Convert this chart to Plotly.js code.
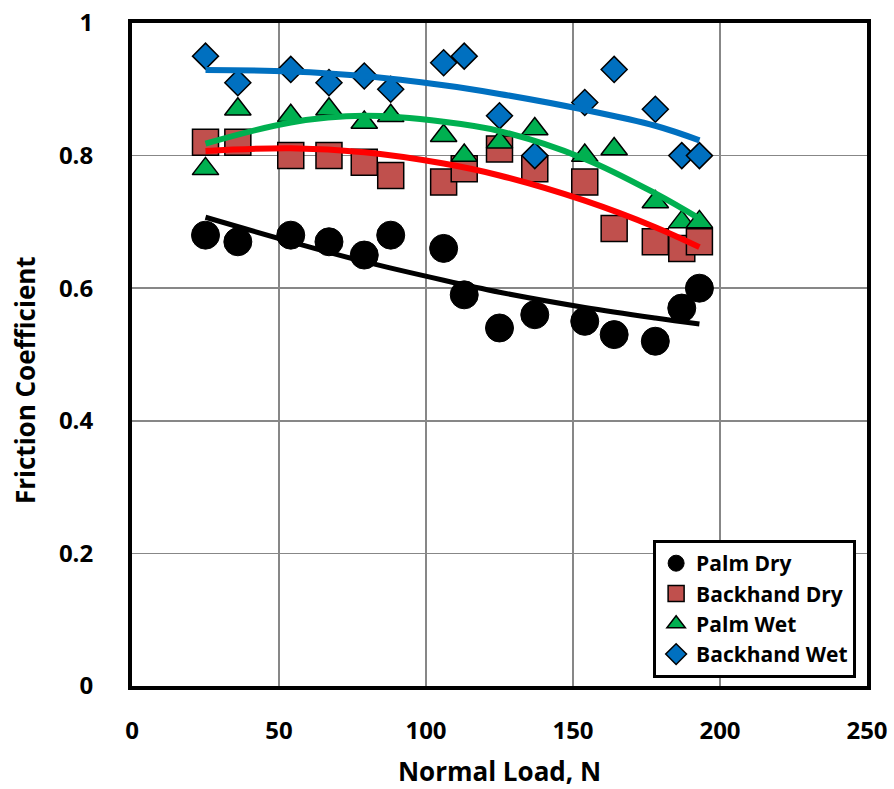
<!DOCTYPE html>
<html>
<head>
<meta charset="utf-8">
<script src="https://cdn.plot.ly/plotly-3.0.1.min.js"></script>
<style>
html,body{margin:0;padding:0;background:#fff;}
#chart{width:894px;height:789px;}
</style>
</head>
<body>
<div id="chart"></div>
<script>
// Measured data
const normalLoad = [25, 36, 54, 67, 79, 88, 106, 113, 125, 137, 154, 164, 178, 187, 193];
const palmDry = [0.68, 0.67, 0.68, 0.67, 0.65, 0.68, 0.66, 0.59, 0.54, 0.56, 0.55, 0.53, 0.52, 0.57, 0.60];
const backhandDry = [0.82, 0.82, 0.80, 0.80, 0.79, 0.77, 0.76, 0.78, 0.81, 0.78, 0.76, 0.69, 0.67, 0.66, 0.67];
const palmWet = [0.78, 0.87, 0.86, 0.87, 0.85, 0.86, 0.83, 0.80, 0.82, 0.84, 0.80, 0.81, 0.73, 0.70, 0.70];
const backhandWet = [0.95, 0.91, 0.93, 0.91, 0.92, 0.90, 0.94, 0.95, 0.86, 0.80, 0.88, 0.93, 0.87, 0.80, 0.80];

// Trend lines
const trendLoad = [25, 54, 79, 106, 125, 154, 178, 193];
const trendPalmDry = [0.707, 0.670, 0.640, 0.612, 0.594, 0.571, 0.555, 0.546];
const trendBackhandDry = [0.807, 0.811, 0.805, 0.788, 0.770, 0.732, 0.692, 0.662];
const trendPalmWet = [0.818, 0.850, 0.860, 0.851, 0.837, 0.795, 0.743, 0.705];
const trendBackhandWet = [0.929, 0.927, 0.920, 0.906, 0.893, 0.869, 0.845, 0.823];

const seriesNames = ['Palm Dry', 'Backhand Dry', 'Palm Wet', 'Backhand Wet'];
const xTicks = [0, 50, 100, 150, 200, 250];
const yTicks = [0, 0.2, 0.4, 0.6, 0.8, 1];
const yTickText = ['0', '0.2', '0.4', '0.6', '0.8', '1'];
const xTitle = 'Normal Load, N';
const yTitle = 'Friction Coefficient';

const FONT = '"Open Sans", Lato, sans-serif';

const traces = [
  {x: normalLoad, y: palmDry, name: seriesNames[0], mode: 'markers', type: 'scatter',
   marker: {symbol: 'circle', size: 28, color: '#000000', line: {color: '#000000', width: 1}}},
  {x: normalLoad, y: backhandDry, name: seriesNames[1], mode: 'markers', type: 'scatter',
   marker: {symbol: 'square', size: 26, color: '#C0504D', line: {color: '#000000', width: 1.5}}},
  {x: normalLoad, y: palmWet, name: seriesNames[2], mode: 'markers', type: 'scatter',
   marker: {symbol: 'triangle-up', size: 23, color: '#00B050', line: {color: '#000000', width: 1.5}}},
  {x: normalLoad, y: backhandWet, name: seriesNames[3], mode: 'markers', type: 'scatter',
   marker: {symbol: 'diamond', size: 20, color: '#0070C0', line: {color: '#000000', width: 1.5}}},
  {x: trendLoad, y: trendPalmDry, mode: 'lines', type: 'scatter', showlegend: false, hoverinfo: 'skip',
   line: {color: '#000000', width: 5, shape: 'spline', smoothing: 1}},
  {x: trendLoad, y: trendBackhandDry, mode: 'lines', type: 'scatter', showlegend: false, hoverinfo: 'skip',
   line: {color: '#FF0000', width: 6, shape: 'spline', smoothing: 1}},
  {x: trendLoad, y: trendPalmWet, mode: 'lines', type: 'scatter', showlegend: false, hoverinfo: 'skip',
   line: {color: '#00B050', width: 6, shape: 'spline', smoothing: 1}},
  {x: trendLoad, y: trendBackhandWet, mode: 'lines', type: 'scatter', showlegend: false, hoverinfo: 'skip',
   line: {color: '#0070C0', width: 6, shape: 'spline', smoothing: 1}}
];

const layout = {
  width: 894, height: 789,
  margin: {l: 132, r: 27, t: 23, b: 103, pad: 0},
  paper_bgcolor: '#ffffff', plot_bgcolor: '#ffffff',
  font: {family: FONT, size: 22, color: '#000000', weight: 700},
  showlegend: true,
  legend: {
    x: 0.709, y: 0.012, xanchor: 'left', yanchor: 'bottom',
    bgcolor: '#ffffff', bordercolor: '#000000', borderwidth: 3,
    font: {family: FONT, size: 21, color: '#000000', weight: 700},
    tracegroupgap: 0, itemwidth: 30
  },
  xaxis: {
    range: [0, 250], tickvals: xTicks, ticktext: xTicks.map(String),
    showgrid: true, gridcolor: '#878787', gridwidth: 1.5, zeroline: false,
    showline: true, linecolor: '#000000', linewidth: 4, mirror: true,
    ticks: '', ticklabelstandoff: 20,
    tickfont: {family: FONT, size: 24, color: '#000000', weight: 700},
    title: {text: xTitle, standoff: 24, font: {family: FONT, size: 26, color: '#000000', weight: 700}}
  },
  yaxis: {
    range: [0, 1], tickvals: yTicks, ticktext: yTickText,
    showgrid: true, gridcolor: '#878787', gridwidth: 1.5, zeroline: false,
    showline: true, linecolor: '#000000', linewidth: 4, mirror: true,
    ticks: '', ticklabelstandoff: 30,
    tickfont: {family: FONT, size: 24, color: '#000000', weight: 700}
  },
  annotations: [{
    text: yTitle, xref: 'paper', yref: 'paper', x: -0.1456, y: 0.4615,
    xanchor: 'center', yanchor: 'middle', textangle: -90, showarrow: false,
    font: {family: FONT, size: 26, color: '#000000', weight: 700}
  }]
};

Plotly.newPlot('chart', traces, layout, {displayModeBar: false, staticPlot: true});
</script>
</body>
</html>
